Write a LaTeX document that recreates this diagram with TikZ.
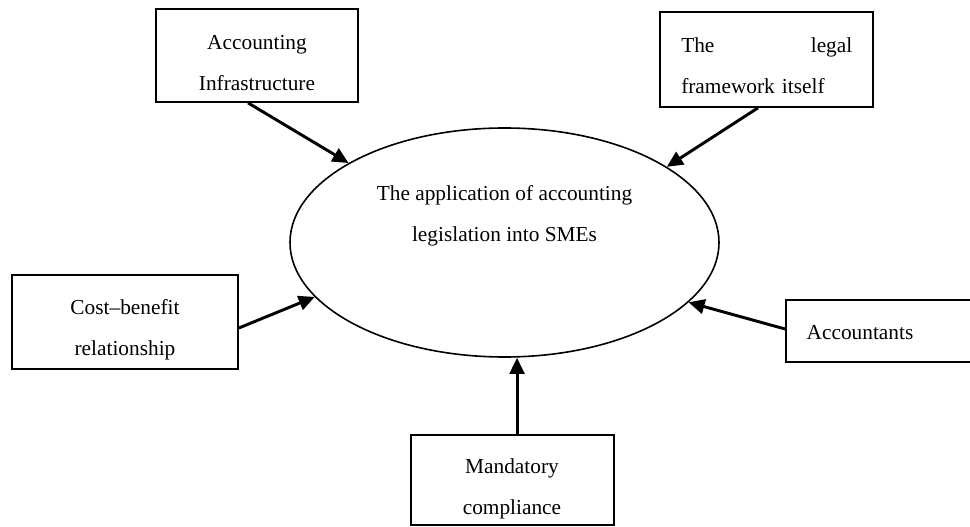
\documentclass[tikz,border=0pt]{standalone}
\usepackage{fontspec}
\setmainfont{Liberation Serif}
\usetikzlibrary{arrows.meta,shapes.geometric}
\begin{document}
\begin{tikzpicture}[x=0.75pt,y=-0.75pt,
  boxnode/.style={draw=black,line width=1.3pt,rectangle,inner sep=0pt},
  txt/.style={align=center,inner sep=0pt,font=\fontsize{16}{30.5}\selectfont},
  conn/.style={line width=2.2pt,-{Triangle[length=12pt,width=11pt]}}]
\useasboundingbox (0,0) rectangle (970,527);
% boxes
\node[boxnode,minimum width=151.5pt,minimum height=69.75pt] (acc) at (257,55.5) {};
\node[boxnode,minimum width=159.75pt,minimum height=71.25pt] (legal) at (766.5,59.5) {};
\node[boxnode,minimum width=169.5pt,minimum height=70.5pt] (cost) at (125,322) {};
\node[boxnode,minimum width=153pt,minimum height=46.5pt] (accts) at (888,331) {};
\node[boxnode,minimum width=152.25pt,minimum height=67.5pt] (mand) at (512.5,480) {};
\node[draw=black,line width=1.2pt,ellipse,inner sep=0pt,minimum width=321.75pt,minimum height=171.75pt] (ell) at (504.5,242.5) {};
% texts
\node[txt] (acctxt) at (257,63) {Accounting\\Infrastructure};
\node[txt,anchor=west,text width=128.25pt,align=left] (legaltxt) at (681,65.5) {\makebox[128.25pt]{The\hfill legal}\\framework itself};
\node[txt] (costtxt) at (125,330) {Cost--benefit\\relationship};
\node[txt] (acctstxt) at (860,333) {Accountants};
\node[txt] (mandtxt) at (512,489) {Mandatory\\compliance};
\node[txt] (elltxt) at (504.5,216) {The application of accounting\\legislation into SMEs};
% connectors
\draw[conn] ([xshift=-6.75pt]acc.south) -- (ell.153.5);
\draw[conn] ([xshift=-6.4pt]legal.south) -- (ell.25.5);
\draw[conn] ([yshift=-4.5pt]cost.east) -- (ell.196.9);
\draw[conn] ([yshift=1.5pt]accts.west) -- (ell.342);
\coordinate (mstart) at ([xshift=3.4pt]mand.north);
\draw[conn] (mstart) -- (mstart |- ell.south);
\end{tikzpicture}
\end{document}
